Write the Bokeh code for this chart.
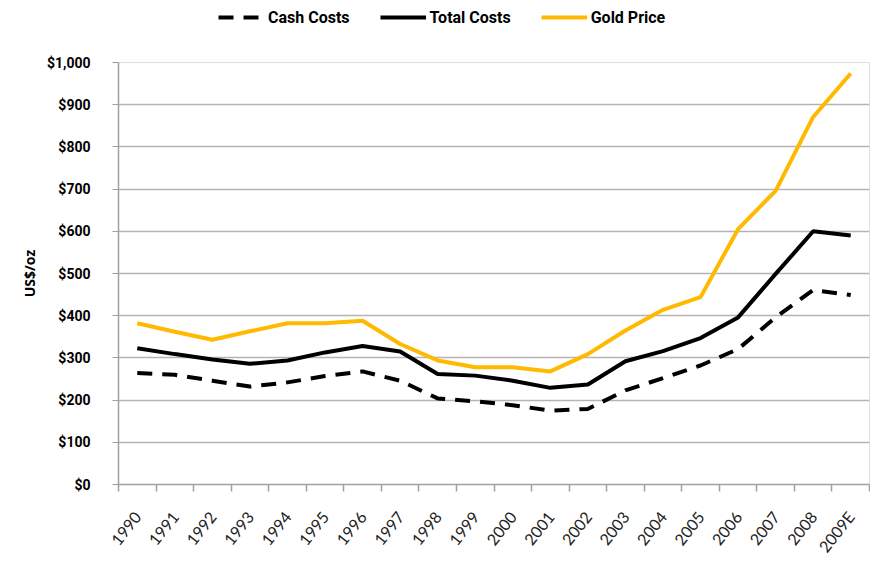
from bokeh.plotting import figure
from bokeh.layouts import column
from bokeh.models import (ColumnDataSource, FixedTicker, NumeralTickFormatter,
                          Legend, LegendItem, Range1d)
from bokeh.embed import file_html
from bokeh.resources import INLINE

years = ["1990", "1991", "1992", "1993", "1994", "1995", "1996", "1997", "1998", "1999",
         "2000", "2001", "2002", "2003", "2004", "2005", "2006", "2007", "2008", "2009E"]
cash_costs = [264, 260, 246, 232, 242, 257, 268, 246, 204, 197,
              188, 175, 179, 223, 252, 282, 321, 396, 461, 449]
total_costs = [323, 309, 296, 286, 294, 313, 328, 315, 262, 258,
               246, 229, 237, 292, 316, 347, 396, 499, 600, 590]
gold_price = [382, 362, 343, 363, 382, 382, 388, 333, 294, 278,
              278, 268, 309, 365, 414, 444, 605, 696, 871, 974]
y_ticks = [0, 100, 200, 300, 400, 500, 600, 700, 800, 900, 1000]

CASH = dict(line_color="black", line_width=4, line_dash="15 10")
TOTAL = dict(line_color="black", line_width=4)
GOLD = dict(line_color="#FFB900", line_width=4)

xs = [i + 0.5 for i in range(len(years))]
src = ColumnDataSource(dict(x=xs, cash=cash_costs, total=total_costs, gold=gold_price))

# ---- legend strip on top (frames are aligned by the column layout) ----
top = figure(width=870, height=40, output_backend="svg", toolbar_location=None,
             x_axis_type=None, y_axis_type=None,
             x_range=Range1d(0, 1), y_range=Range1d(0, 1),
             min_border_left=118, min_border_right=1, min_border_top=0, min_border_bottom=0)
top.outline_line_color = None
top.xgrid.grid_line_color = None
top.ygrid.grid_line_color = None
nan = float("nan")
dummy = ColumnDataSource(dict(x=[nan], y=[nan]))
l_cash = top.line("x", "y", source=dummy, **CASH)
l_total = top.line("x", "y", source=dummy, **TOTAL)
l_gold = top.line("x", "y", source=dummy, **GOLD)
legend = Legend(items=[LegendItem(label="Cash Costs", renderers=[l_cash]),
                       LegendItem(label="Total Costs", renderers=[l_total]),
                       LegendItem(label="Gold Price", renderers=[l_gold])],
                orientation="horizontal", location=(100, 13),
                label_text_font="Roboto", label_text_font_style="bold",
                label_text_font_size="16px", label_text_color="black",
                glyph_width=46, glyph_height=20,
                label_standoff=4, spacing=30, padding=0, margin=0,
                border_line_color=None, background_fill_alpha=0)
top.add_layout(legend, "center")

# ---- main chart ----
p = figure(width=870, height=524, output_backend="svg", toolbar_location=None,
           x_range=Range1d(0, len(years)), y_range=Range1d(0, 1000),
           min_border_left=118, min_border_right=1, min_border_top=22, min_border_bottom=78)
p.outline_line_color = "#e0e0e0"
p.background_fill_color = "white"
p.border_fill_color = "white"

p.line("x", "cash", source=src, **CASH)
p.line("x", "total", source=src, **TOTAL)
p.line("x", "gold", source=src, **GOLD)

p.xgrid.grid_line_color = None
p.ygrid.grid_line_color = "#b4b4b4"
p.ygrid.grid_line_width = 1.5
p.ygrid.ticker = FixedTicker(ticks=y_ticks)

ya = p.yaxis[0]
ya.ticker = FixedTicker(ticks=y_ticks)
ya.formatter = NumeralTickFormatter(format="$0,0")
ya.axis_line_color = "#a0a0a0"
ya.axis_line_width = 1.5
ya.major_tick_line_color = "#a0a0a0"
ya.major_tick_out = 6
ya.major_tick_in = 0
ya.minor_tick_line_color = None
ya.major_label_text_font = "Roboto"
ya.major_label_text_font_style = "bold"
ya.major_label_text_font_size = "14px"
ya.major_label_text_color = "black"
ya.major_label_standoff = 22
ya.axis_label = "US$/oz"
ya.axis_label_text_font = "Open Sans"
ya.axis_label_text_font_style = "bold"
ya.axis_label_text_font_size = "14px"
ya.axis_label_text_color = "black"
ya.axis_label_standoff = 5

xa = p.xaxis[0]
xa.ticker = FixedTicker(ticks=xs, minor_ticks=list(range(len(years) + 1)))
xa.major_label_overrides = {x: y for x, y in zip(xs, years)}
xa.major_tick_line_color = None
xa.minor_tick_line_color = "#a0a0a0"
xa.minor_tick_line_width = 1.5
xa.minor_tick_out = 7
xa.minor_tick_in = 0
xa.axis_line_color = "#a0a0a0"
xa.axis_line_width = 1.5
xa.major_label_orientation = 0.9
xa.major_label_text_font = "Lato"
xa.major_label_text_font_size = "16px"
xa.major_label_text_color = "#222222"
xa.major_label_standoff = 22

layout = column(top, p, spacing=0)
open("out.html", "w").write(file_html(layout, INLINE))
